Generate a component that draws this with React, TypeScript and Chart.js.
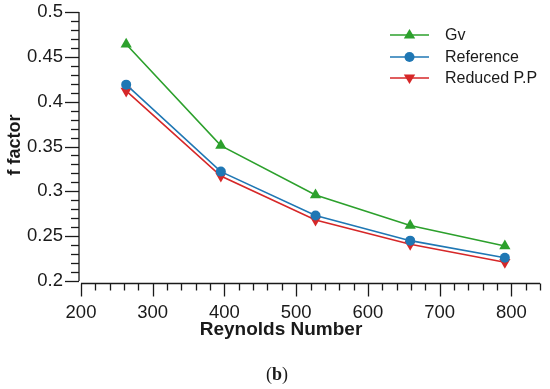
import { useEffect, useRef } from "react";
import { Chart, registerables } from "chart.js";

Chart.register(...registerables);

const reynolds = [263, 395, 527, 659, 791];
const gv = [0.464, 0.351, 0.296, 0.262, 0.239];
const reference = [0.419, 0.322, 0.273, 0.245, 0.226];
const reducedPP = [0.412, 0.317, 0.268, 0.241, 0.221];
const xTickValues = [200, 300, 400, 500, 600, 700, 800];
const yTickValues = [0.2, 0.25, 0.3, 0.35, 0.4, 0.45, 0.5];
const seriesNames = ["Gv", "Reference", "Reduced P.P"];
const xTitle = "Reynolds Number";
const yTitle = "f factor";
const panelLabel = "b";

const GREEN = "#2ca02c";
const BLUE = "#1f77b4";
const RED = "#d62728";
const INK = "#1a1a1a";
const SANS = "'Liberation Sans', Arial, sans-serif";

const decorPlugin = {
  id: "decor",
  afterDraw(chart: any) {
    const ctx = chart.ctx;
    const xs = chart.scales.x;
    const ys = chart.scales.y;
    const area = chart.chartArea;
    ctx.save();
    ctx.strokeStyle = INK;
    ctx.lineWidth = 1.3;
    // y axis
    const yx = area.left - 2;
    ctx.beginPath();
    ctx.moveTo(yx, ys.getPixelForValue(0.5));
    ctx.lineTo(yx, ys.getPixelForValue(0.2));
    ctx.stroke();
    for (let i = 0; i <= 30; i++) {
      const v = 0.2 + i * 0.01;
      const py = Math.round(ys.getPixelForValue(v)) + 0.5;
      const len = i % 5 === 0 ? 14 : 8;
      ctx.beginPath();
      ctx.moveTo(yx, py);
      ctx.lineTo(yx - len, py);
      ctx.stroke();
    }
    // x axis
    const xy = area.bottom + 2.5;
    ctx.beginPath();
    ctx.moveTo(xs.getPixelForValue(200), xy);
    ctx.lineTo(xs.getPixelForValue(840), xy);
    ctx.stroke();
    for (let i = 0; i <= 32; i++) {
      const v = 200 + i * 20;
      const px = Math.round(xs.getPixelForValue(v)) + 0.5;
      const len = i % 5 === 0 ? 13 : 7;
      ctx.beginPath();
      ctx.moveTo(px, xy);
      ctx.lineTo(px, xy + len);
      ctx.stroke();
    }
    // titles
    ctx.fillStyle = INK;
    ctx.font = `bold 19px ${SANS}`;
    ctx.textAlign = "center";
    ctx.textBaseline = "middle";
    ctx.fillText(xTitle, 281, 330);
    ctx.save();
    ctx.font = `bold 18px ${SANS}`;
    ctx.translate(15, 145);
    ctx.rotate(-Math.PI / 2);
    ctx.fillText(yTitle, 0, 0);
    ctx.restore();
    // panel label
    const serif = "'Liberation Serif', 'DejaVu Serif', serif";
    ctx.font = `18px ${serif}`;
    const wOpen = ctx.measureText("(").width;
    ctx.font = `bold 18px ${serif}`;
    const wB = ctx.measureText(panelLabel).width;
    ctx.font = `18px ${serif}`;
    const wClose = ctx.measureText(")").width;
    const total = wOpen + wB + wClose;
    let cx = 277 - total / 2;
    ctx.textAlign = "left";
    ctx.fillText("(", cx, 375);
    cx += wOpen;
    ctx.font = `bold 18px ${serif}`;
    ctx.fillText(panelLabel, cx, 375);
    cx += wB;
    ctx.font = `18px ${serif}`;
    ctx.fillText(")", cx, 375);
    // legend
    const rows = [35, 57, 78];
    chart.data.datasets.forEach((ds: any, i: number) => {
      const y = rows[i];
      ctx.strokeStyle = ds.borderColor;
      ctx.lineWidth = 1.6;
      ctx.beginPath();
      ctx.moveTo(390, y);
      ctx.lineTo(429, y);
      ctx.stroke();
      ctx.fillStyle = ds.backgroundColor;
      ctx.beginPath();
      const r = 6;
      if (i === 1) {
        ctx.arc(409.5, y, 5, 0, Math.PI * 2);
      } else if (i === 0) {
        ctx.moveTo(409.5, y - r);
        ctx.lineTo(409.5 + r * 0.95, y + r * 0.6);
        ctx.lineTo(409.5 - r * 0.95, y + r * 0.6);
        ctx.closePath();
      } else {
        ctx.moveTo(409.5, y + r);
        ctx.lineTo(409.5 + r * 0.95, y - r * 0.6);
        ctx.lineTo(409.5 - r * 0.95, y - r * 0.6);
        ctx.closePath();
      }
      ctx.fill();
      ctx.fillStyle = INK;
      ctx.font = `16px ${SANS}`;
      ctx.textAlign = "left";
      ctx.textBaseline = "middle";
      ctx.fillText(ds.label, 445, y + 1);
    });
    ctx.restore();
  },
};

export default function App() {
  const canvasRef = useRef<HTMLCanvasElement | null>(null);

  useEffect(() => {
    if (!canvasRef.current) return;
    const mk = (vals: number[]) => reynolds.map((x, i) => ({ x, y: vals[i] }));
    const chart = new Chart(canvasRef.current, {
      type: "line",
      data: {
        datasets: [
          {
            label: seriesNames[0],
            data: mk(gv),
            borderColor: GREEN,
            backgroundColor: GREEN,
            pointStyle: "triangle",
            pointRadius: 6.5,
            borderWidth: 1.6,
            pointBorderWidth: 0,
          },
          {
            label: seriesNames[1],
            data: mk(reference),
            borderColor: BLUE,
            backgroundColor: BLUE,
            pointStyle: "circle",
            pointRadius: 5,
            borderWidth: 1.6,
            pointBorderWidth: 0,
          },
          {
            label: seriesNames[2],
            data: mk(reducedPP),
            borderColor: RED,
            backgroundColor: RED,
            pointStyle: "triangle",
            pointRotation: 180,
            pointRadius: 6.5,
            borderWidth: 1.6,
            pointBorderWidth: 0,
          },
        ],
      },
      options: {
        animation: false,
        responsive: false,
        maintainAspectRatio: false,
        layout: { padding: { top: 12, right: 10, left: 0, bottom: 0 } },
        plugins: { legend: { display: false }, tooltip: { enabled: false } },
        scales: {
          x: {
            type: "linear",
            min: 200,
            max: 840,
            afterBuildTicks: (s: any) => {
              s.ticks = xTickValues.map((v) => ({ value: v }));
            },
            afterFit: (s: any) => {
              s.height = 108;
              s.paddingLeft = 0;
              s.paddingRight = 0;
              s.paddingTop = 0;
              s.paddingBottom = 0;
            },
            grid: { display: false, drawTicks: false },
            border: { display: false },
            ticks: {
              color: INK,
              font: { family: SANS, size: 18.5 },
              padding: 21,
              maxRotation: 0,
              autoSkip: false,
              callback: (v: any) => String(v),
            },
          },
          y: {
            type: "linear",
            min: 0.2,
            max: 0.5,
            afterBuildTicks: (s: any) => {
              s.ticks = yTickValues.map((v) => ({ value: v }));
            },
            afterFit: (s: any) => {
              s.width = 81;
              s.paddingLeft = 0;
              s.paddingRight = 0;
              s.paddingTop = 0;
              s.paddingBottom = 0;
            },
            grid: { display: false, drawTicks: false },
            border: { display: false },
            ticks: {
              color: INK,
              font: { family: SANS, size: 18.5 },
              padding: 18,
              autoSkip: false,
              callback: (v: any) => String(Number(Number(v).toFixed(2))),
            },
          },
        },
      },
      plugins: [decorPlugin],
    });
    return () => chart.destroy();
  }, []);

  return (
    <div style={{ position: "absolute", left: 0, top: 0, width: 550, height: 389, background: "#fff" }}>
      <canvas ref={canvasRef} width={550} height={389} style={{ width: 550, height: 389 }} />
    </div>
  );
}
